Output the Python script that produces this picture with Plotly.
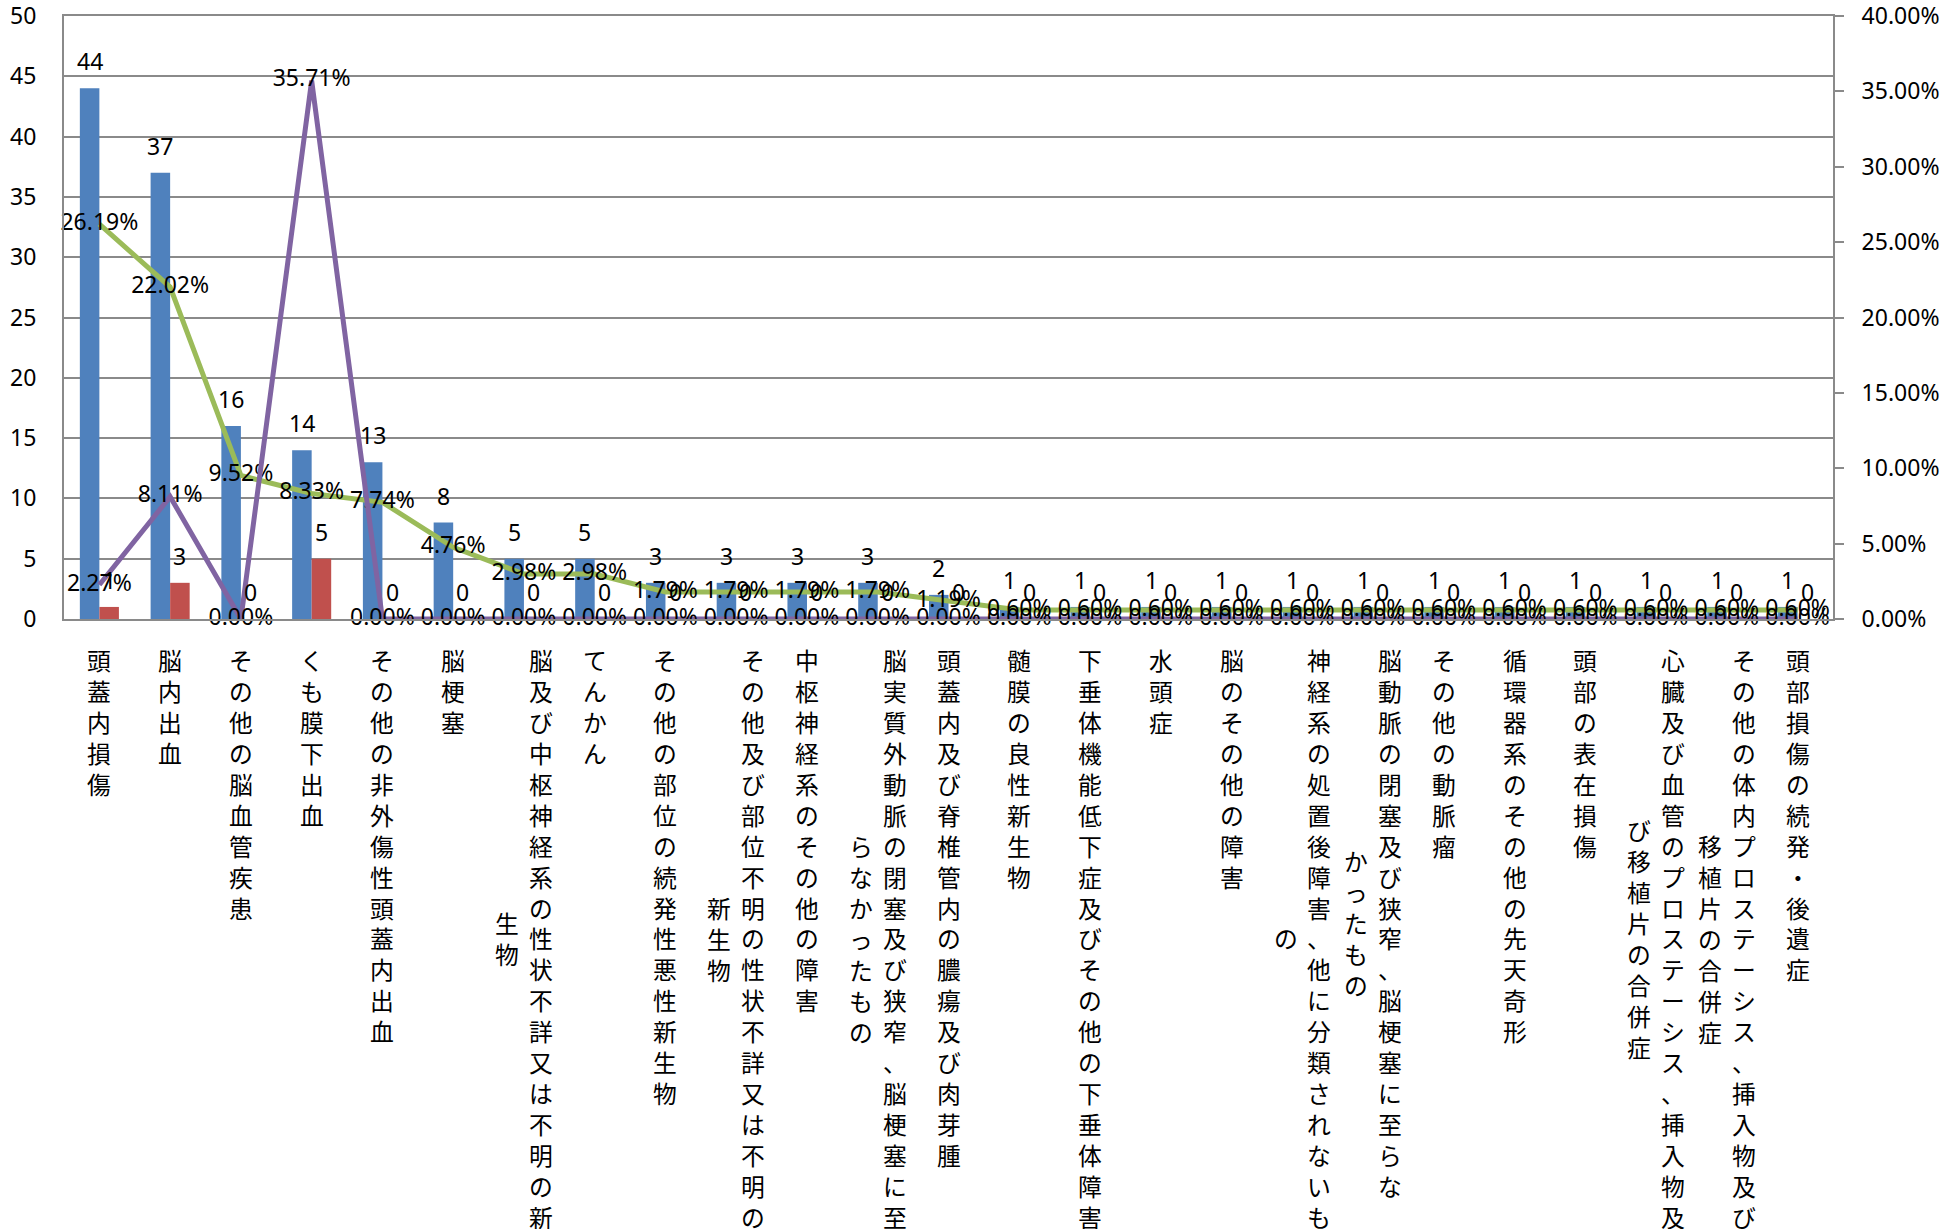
import plotly.graph_objects as go

categories = [
    "頭蓋内損傷", "脳内出血", "その他の脳血管疾患", "くも膜下出血",
    "その他の非外傷性頭蓋内出血", "脳梗塞", "脳及び中枢神経系の性状不詳又は不明の新生物",
    "てんかん", "その他の部位の続発性悪性新生物", "その他及び部位不明の性状不詳又は不明の新生物",
    "中枢神経系のその他の障害", "脳実質外動脈の閉塞及び狭窄、脳梗塞に至らなかったもの",
    "頭蓋内及び脊椎管内の膿瘍及び肉芽腫", "髄膜の良性新生物",
    "下垂体機能低下症及びその他の下垂体障害", "水頭症", "脳のその他の障害",
    "神経系の処置後障害、他に分類されないもの", "脳動脈の閉塞及び狭窄、脳梗塞に至らなかったもの",
    "その他の動脈瘤", "循環器系のその他の先天奇形", "頭部の表在損傷",
    "心臓及び血管のプロステーシス、挿入物及び移植片の合併症",
    "その他の体内プロステーシス、挿入物及び移植片の合併症", "頭部損傷の続発・後遺症",
]
count_a = [44, 37, 16, 14, 13, 8, 5, 5, 3, 3, 3, 3, 2, 1, 1, 1, 1, 1, 1, 1, 1, 1, 1, 1, 1]
count_b = [1, 3, 0, 5, 0, 0, 0, 0, 0, 0, 0, 0, 0, 0, 0, 0, 0, 0, 0, 0, 0, 0, 0, 0, 0]
share_pct = [26.19, 22.02, 9.52, 8.33, 7.74, 4.76, 2.98, 2.98, 1.79, 1.79, 1.79, 1.79, 1.19,
             0.60, 0.60, 0.60, 0.60, 0.60, 0.60, 0.60, 0.60, 0.60, 0.60, 0.60, 0.60]
ratio_pct = [2.27, 8.11, 0.00, 35.71, 0.00, 0.00, 0.00, 0.00, 0.00, 0.00, 0.00, 0.00, 0.00,
             0.00, 0.00, 0.00, 0.00, 0.00, 0.00, 0.00, 0.00, 0.00, 0.00, 0.00, 0.00]
left_ticks = list(range(0, 55, 5))
right_ticks = list(range(0, 45, 5))

FONT = "Noto Sans, Noto Sans CJK JP, sans-serif"
CJK = "Noto Sans CJK JP, sans-serif"
NFS = 23
GRID = "#8a8a8a"
BLUE, RED, GREEN, PURPLE = "#4F81BD", "#C0504D", "#9BBB59", "#8064A2"

fig = go.Figure()
fig.add_trace(go.Bar(x=categories, y=count_a, marker=dict(color=BLUE, line=dict(width=0)), name="A"))
fig.add_trace(go.Bar(x=categories, y=count_b, marker=dict(color=RED, line=dict(width=0)), name="B"))
fig.add_trace(go.Scatter(x=categories, y=share_pct, yaxis="y2", mode="lines+text",
                         line=dict(color=GREEN, width=5),
                         text=[f"{v:.2f}%" for v in share_pct], textposition="middle center",
                         textfont=dict(size=NFS, color="black", family=FONT), cliponaxis=False))
fig.add_trace(go.Scatter(x=categories, y=ratio_pct, yaxis="y2", mode="lines+text",
                         line=dict(color=PURPLE, width=5),
                         text=[f"{v:.2f}%" for v in ratio_pct], textposition="middle center",
                         textfont=dict(size=NFS, color="black", family=FONT), cliponaxis=False))

annotations = []
BAR_HALF = 9.75
for c, a, b in zip(categories, count_a, count_b):
    annotations.append(dict(x=c, y=a, xref="x", yref="y", text=str(a), showarrow=False,
                            xshift=-BAR_HALF, yshift=27, yanchor="middle",
                            font=dict(size=NFS, color="black", family=FONT)))
    annotations.append(dict(x=c, y=b, xref="x", yref="y", text=str(b), showarrow=False,
                            xshift=BAR_HALF, yshift=27, yanchor="middle",
                            font=dict(size=NFS, color="black", family=FONT)))

# vertical category labels (stacked characters, wrapped into columns right-to-left)
LFS = 23.8
PITCH = LFS * 1.3
COLW = 33.6
MAXC = 19
NO_START = set("っゃゅょぁぃぅぇぉッャュョァィゥェォ、。ー・")


def wrap(s):
    cols = []
    while len(s) > MAXC:
        cut = MAXC
        if s[cut] in NO_START:
            cut -= 1
        cols.append(s[:cut])
        s = s[cut:]
    cols.append(s)
    return cols


for c in categories:
    cols = wrap(c)
    n = len(cols)
    n1 = len(cols[0])
    for j, col in enumerate(cols):
        xs = ((n - 1) / 2 - j) * COLW
        ys = -21 - (n1 - len(col)) / 2 * PITCH
        annotations.append(dict(x=c, y=0, xref="x", yref="y", text="<br>".join(col),
                                showarrow=False, xshift=xs, yshift=ys, yanchor="top",
                                xanchor="center", align="center",
                                font=dict(size=LFS, color="black", family=CJK)))

fig.update_layout(
    width=1954, height=1229,
    margin=dict(l=64, r=121, t=16, b=610, pad=0, autoexpand=False),
    paper_bgcolor="white", plot_bgcolor="white",
    showlegend=False,
    barmode="group", bargap=0.448, bargroupgap=0,
    font=dict(family=FONT, size=NFS, color="black"),
    xaxis=dict(showticklabels=False, showline=True, mirror=True, linecolor=GRID, linewidth=2,
               ticks="", showgrid=False, range=[-0.5, len(categories) - 0.5], automargin=False),
    yaxis=dict(range=[0, 50], tickvals=left_ticks, showgrid=True, gridcolor=GRID, gridwidth=1.6,
               zeroline=False, showline=True, linecolor=GRID, linewidth=2, ticks="",
               ticklabelstandoff=21, ticklabeloverflow="allow", automargin=False,
               tickfont=dict(size=NFS, family=FONT)),
    yaxis2=dict(range=[0, 40], tickvals=right_ticks, overlaying="y", side="right",
                showgrid=False, zeroline=False, showline=True, linecolor=GRID, linewidth=2,
                ticks="outside", ticklen=9, tickcolor=GRID, tickwidth=2,
                ticktext=[f"{v:.2f}%" for v in right_ticks], tickmode="array",
                ticklabelstandoff=13, ticklabeloverflow="allow", automargin=False,
                tickfont=dict(size=NFS, family=FONT)),
    annotations=annotations,
)

fig.write_html("out.html", config={"displayModeBar": False},
               post_script="document.body.style.margin='0';")
